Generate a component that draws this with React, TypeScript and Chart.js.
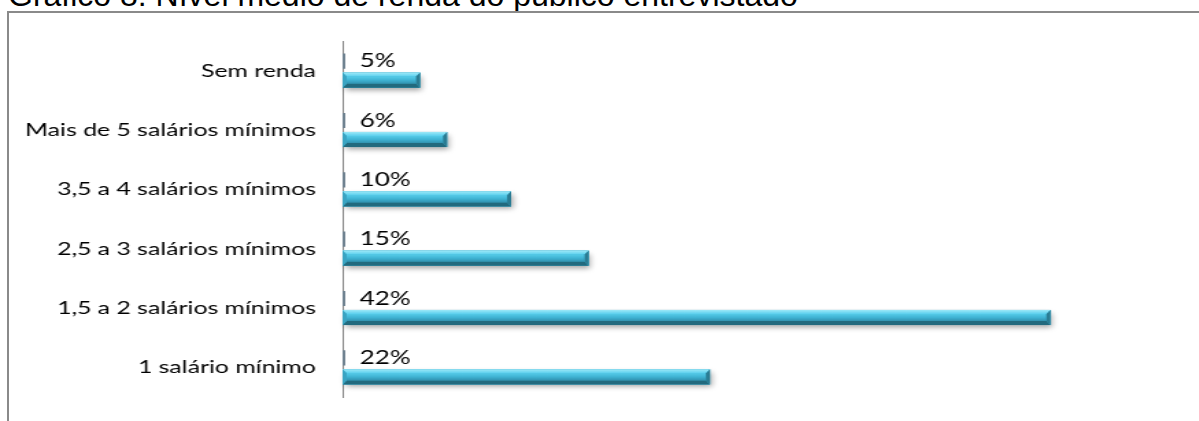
import React, { useEffect, useRef } from 'react';
import { Chart, registerables } from 'chart.js';

Chart.register(...registerables);

const titleText = 'Gráfico 8: Nível médio de renda do público entrevistado';
const categories = [
  'Sem renda',
  'Mais de 5 salários mínimos',
  '3,5 a 4 salários mínimos',
  '2,5 a 3 salários mínimos',
  '1,5 a 2 salários mínimos',
  '1 salário mínimo',
];
const shares = [4.6, 6.2, 10.0, 14.6, 42.0, 21.8];
const shareLabels = ['5%', '6%', '10%', '15%', '42%', '22%'];
const markerValues = [0, 0, 0, 0, 0, 0];
const xMax = 50;

// The reference picture is horizontally stretched; the canvas is drawn
// narrower and widened by CSS to reproduce that look.
const PAGE_W = 1199;
const PAGE_H = 421;
const CANVAS_W = 875;
const STRETCH = PAGE_W / CANVAS_W;

const bevelPlugin = {
  id: 'bevel3d',
  beforeDatasetsDraw(chart: any) {
    const meta = chart.getDatasetMeta(1);
    const ctx = chart.ctx;
    ctx.save();
    ctx.shadowColor = 'rgba(0,0,0,0.35)';
    ctx.shadowBlur = 5;
    ctx.shadowOffsetX = 1.5;
    ctx.shadowOffsetY = 3;
    ctx.fillStyle = '#3a9fbd';
    meta.data.forEach((el: any) => {
      const { x, y, base, height } = el.getProps(['x', 'y', 'base', 'height'], true);
      ctx.fillRect(base, y - height / 2, x - base, height);
    });
    ctx.restore();
  },
  afterDatasetsDraw(chart: any) {
    const ctx = chart.ctx;
    const meta = chart.getDatasetMeta(1);
    ctx.save();
    meta.data.forEach((el: any) => {
      const { x, y, base, height } = el.getProps(['x', 'y', 'base', 'height'], true);
      const L = base;
      const R = x;
      const T = y - height / 2;
      const B = y + height / 2;
      const bx = 4 / STRETCH;
      const by = 4;
      const poly = (pts: number[][], fill: any) => {
        ctx.beginPath();
        ctx.moveTo(pts[0][0], pts[0][1]);
        for (let i = 1; i < pts.length; i++) ctx.lineTo(pts[i][0], pts[i][1]);
        ctx.closePath();
        ctx.fillStyle = fill;
        ctx.fill();
      };
      const face = ctx.createLinearGradient(0, T + by, 0, B - by);
      face.addColorStop(0, '#55cbe8');
      face.addColorStop(0.5, '#3fb3d3');
      face.addColorStop(1, '#3192b0');
      ctx.fillStyle = face;
      ctx.fillRect(L + bx, T + by, R - L - 2 * bx, height - 2 * by);
      const topG = ctx.createLinearGradient(0, T, 0, T + by);
      topG.addColorStop(0, '#9fe9f8');
      topG.addColorStop(1, '#5bd0ee');
      poly([[L, T], [R, T], [R - bx, T + by], [L + bx, T + by]], topG);
      poly([[L, B], [R, B], [R - bx, B - by], [L + bx, B - by]], '#226a7e');
      poly([[R, T], [R, B], [R - bx, B - by], [R - bx, T + by]], '#2a7b92');
      poly([[L, T], [L, B], [L + bx, B - by], [L + bx, T + by]], '#3aa4c2');
    });
    const mMeta = chart.getDatasetMeta(0);
    ctx.fillStyle = '#000000';
    ctx.font = '19px Lato';
    ctx.textBaseline = 'middle';
    ctx.textAlign = 'left';
    mMeta.data.forEach((el: any, i: number) => {
      const { y } = el.getProps(['y'], true);
      ctx.fillText(shareLabels[i], chart.chartArea.left + 12.5, y);
    });
    ctx.restore();
  },
};

export default function App() {
  const canvasRef = useRef<HTMLCanvasElement | null>(null);

  useEffect(() => {
    if (!canvasRef.current) return;
    const chart = new Chart(canvasRef.current, {
      type: 'bar',
      data: {
        labels: categories,
        datasets: [
          {
            data: markerValues,
            backgroundColor: '#6f8290',
            minBarLength: 2,
            clip: false as any,
            categoryPercentage: 0.64,
            barPercentage: 0.8,
          },
          {
            data: shares,
            backgroundColor: '#3fb3d3',
            categoryPercentage: 0.64,
            barPercentage: 0.8,
          },
        ],
      },
      options: {
        indexAxis: 'y',
        responsive: false,
        animation: false,
        devicePixelRatio: 1,
        layout: { padding: { left: 0, top: 41, right: 10, bottom: 24 } },
        plugins: {
          legend: { display: false },
          tooltip: { enabled: false },
          title: { display: false },
        },
        scales: {
          x: {
            display: false,
            min: 0,
            max: xMax,
          },
          y: {
            grid: { display: false, drawTicks: false },
            border: { display: true, color: '#8a8a8a', width: 1 },
            ticks: {
              color: '#000000',
              font: { family: 'Lato', size: 18.1 },
              padding: 19.5,
            },
            afterFit: (scale: any) => {
              scale.width = 250;
              scale.paddingTop = 0;
              scale.paddingBottom = 0;
            },
          },
        },
      },
      plugins: [bevelPlugin],
    });
    return () => chart.destroy();
  }, []);

  return (
    <div
      style={{
        position: 'absolute',
        left: 0,
        top: 0,
        width: PAGE_W,
        height: PAGE_H,
        overflow: 'hidden',
        background: '#ffffff',
      }}
    >
      <div
        style={{
          position: 'absolute',
          left: 8,
          top: -21,
          fontFamily: '"Liberation Sans", Arial, sans-serif',
          fontSize: 32,
          lineHeight: '32px',
          color: '#000000',
          whiteSpace: 'nowrap',
        }}
      >
        {titleText}
      </div>
      <div
        style={{
          position: 'absolute',
          left: 7,
          top: 11,
          width: PAGE_W - 7,
          height: PAGE_H - 11,
          borderLeft: '2px solid #8a8a8a',
          borderTop: '2px solid #8a8a8a',
          boxSizing: 'border-box',
        }}
      />
      <canvas
        ref={canvasRef}
        width={CANVAS_W}
        height={PAGE_H}
        style={{ position: 'absolute', left: 0, top: 0, width: PAGE_W, height: PAGE_H }}
      />
    </div>
  );
}
